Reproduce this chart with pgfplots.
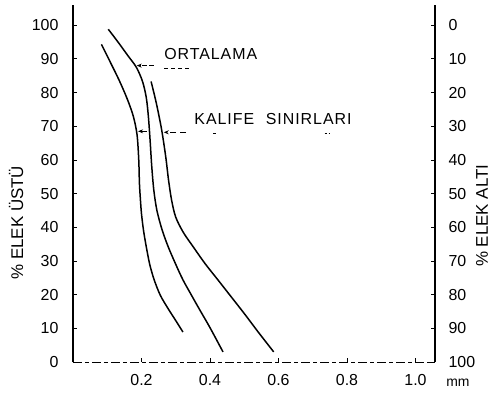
\documentclass[border=0pt]{standalone}
\usepackage{fontspec}
\setmainfont{Liberation Sans}
\newfontfamily\spaced[LetterSpace=6]{Liberation Sans}
\usepackage{pgfplots}
\pgfplotsset{compat=1.18}
\usetikzlibrary{arrows.meta}
\begin{document}
\begin{tikzpicture}[font=\fontsize{16}{18}\selectfont]
\path[use as bounding box] (-73bp,-35bp) rectangle (428bp,362bp);
\begin{axis}[
  at={(0,0)}, anchor=south west,
  scale only axis, width=362bp, height=357bp,
  xmin=0, xmax=1.057, ymin=0, ymax=106,
  axis x line*=bottom, axis y line*=left,
  x axis line style={-, dash pattern=on 9bp off 3bp on 4bp off 3bp, line width=1bp},
  y axis line style={-, line width=1.6bp},
  xtick={0.2,0.4,0.6,0.8,1.0},
  xticklabels={0.2,0.4,0.6,0.8,1.0},
  ytick={0,10,...,100},
  tick align=inside, major tick length=4bp,
  tick style={black, line width=0.8bp},
  /pgf/number format/assume math mode=true,
  xticklabel style={yshift=-9bp},
  yticklabel style={xshift=-11bp},
  clip=false,
]
% lower limit (left)
\addplot[black, line width=1.5bp, smooth, tension=0.5] coordinates {
(0.083,94.3) (0.11,88.8) (0.135,83.6) (0.158,78.2) (0.176,73) (0.187,67.5)
(0.192,60) (0.194,53) (0.197,48) (0.2,44) (0.206,39) (0.214,34.2)
(0.224,29) (0.237,24.4) (0.255,19.8) (0.278,15.8) (0.3,12.3) (0.321,8.9)};
% average (middle)
\addplot[black, line width=1.5bp, smooth, tension=0.5] coordinates {
(0.103,98.8) (0.13,95.2) (0.16,91) (0.185,87.5) (0.203,83.3) (0.214,78.5)
(0.22,73) (0.225,66) (0.23,58) (0.236,51) (0.245,45) (0.26,39.3)
(0.278,34.2) (0.3,29) (0.321,24.4) (0.345,20) (0.37,15.5) (0.4,10.2) (0.438,3)};
% upper limit (right)
\addplot[black, line width=1.5bp, smooth, tension=0.5] coordinates {
(0.228,83.3) (0.243,77) (0.257,70) (0.265,65) (0.272,60) (0.279,54)
(0.288,48) (0.3,43) (0.322,38.5) (0.351,34.2) (0.385,29.3) (0.423,24.4)
(0.46,19.6) (0.5,14.4) (0.54,9) (0.586,3)};

\node[anchor=west, inner sep=0pt, font=\fontsize{16}{18}\spaced] at (axis cs:0.266,91.4) {ORTALAMA};
\draw[line width=0.8bp, dash pattern=on 4bp off 3bp] (axis cs:0.266,87.3) -- (axis cs:0.345,87.3);
\draw[-{Stealth[length=5bp,width=4bp]}, line width=0.9bp, dash pattern=on 5bp off 2bp] (axis cs:0.236,88) -- (axis cs:0.186,88);

\node[anchor=west, inner sep=0pt, font=\fontsize{16}{18}\spaced] at (axis cs:0.354,72) {KALIFE\hspace{0.4em} SINIRLARI};
\draw[line width=0.8bp] (axis cs:0.41,68) -- (axis cs:0.418,68);
\draw[line width=0.8bp, dash pattern=on 2bp off 2bp] (axis cs:0.735,68) -- (axis cs:0.75,68);
\draw[-{Stealth[length=5bp,width=4bp]}, line width=0.9bp] (axis cs:0.215,68.5) -- (axis cs:0.19,68.5);
\draw[-{Stealth[length=5bp,width=4bp]}, line width=0.9bp, dash pattern=on 6bp off 4bp] (axis cs:0.33,68.2) -- (axis cs:0.265,68.2);

\node[rotate=90, font=\fontsize{17}{19}\selectfont] at (rel axis cs:-0.157,0.39) {\% ELEK ÜSTÜ};
\node[rotate=90, font=\fontsize{17}{19}\selectfont] at (rel axis cs:1.13,0.41) {\% ELEK ALTI};
\node[font=\fontsize{14}{16}\selectfont] at (axis cs:1.124,-6.3) {mm};
\end{axis}
\begin{axis}[
  at={(0,0)}, anchor=south west,
  scale only axis, width=362bp, height=357bp,
  xmin=0, xmax=1.057, ymin=-6, ymax=100,
  y dir=reverse,
  axis y line*=right, axis x line=none,
  y axis line style={-, line width=1.6bp},
  ytick={0,10,...,100},
  tick align=inside, major tick length=4bp,
  tick style={black, line width=0.8bp},
  /pgf/number format/assume math mode=true,
  yticklabel style={xshift=10bp},
]
\addplot[draw=none] coordinates {(0.5,50)};
\end{axis}
\end{tikzpicture}
\end{document}
